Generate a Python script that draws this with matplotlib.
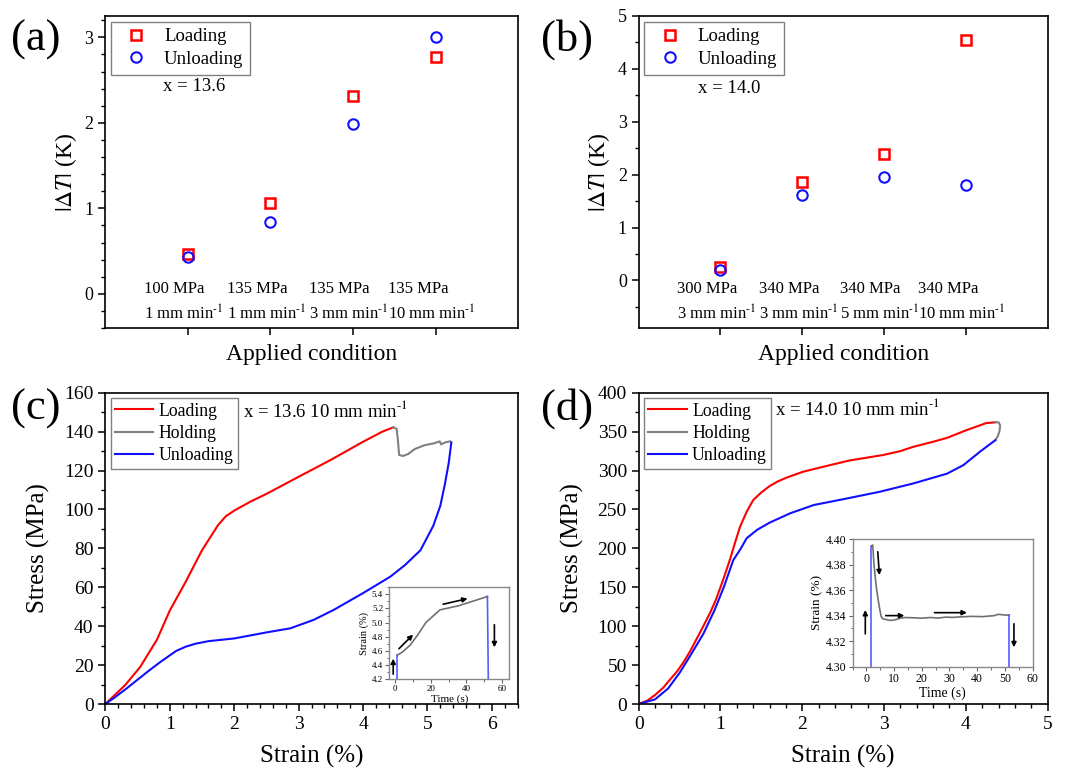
import numpy as np
import matplotlib
matplotlib.use("Agg")
from matplotlib import pyplot as plt
from matplotlib.ticker import MultipleLocator
import matplotlib.transforms as mtransforms

plt.rcParams['font.family'] = ['Liberation Serif', 'DejaVu Serif']
plt.rcParams['mathtext.fontset'] = 'stix'
plt.rcParams['axes.linewidth'] = 1.2

# ---- panel (a): x = 13.6 ----
a_stress = ['100', '135', '135', '135']
a_rate = ['1', '1', '3', '10']
a_loading = [0.46, 1.06, 2.31, 2.77]
a_unloading = [0.43, 0.84, 1.99, 3.00]

# ---- panel (b): x = 14.0 ----
b_stress = ['300', '340', '340', '340']
b_rate = ['3', '3', '5', '10']
b_loading = [0.25, 1.86, 2.39, 4.54]
b_unloading = [0.20, 1.61, 1.95, 1.81]

# ---- panel (c): stress-strain, x = 13.6 ----
c_load_strain = [0, 0.12, 0.31, 0.54, 0.80, 1.0, 1.25, 1.5, 1.75, 1.87, 2.0, 2.25, 2.5,
                 3.0, 3.5, 4.0, 4.3, 4.47]
c_load_stress = [0, 3.8, 9.8, 19, 33, 48, 63, 79, 92, 96.5, 99.4, 104, 108,
                 116.8, 125.5, 134.8, 140, 142.2]
c_hold_strain = [4.47, 4.52, 4.54, 4.56, 4.62, 4.70, 4.80, 4.95, 5.10, 5.19, 5.21, 5.28, 5.35]
c_hold_stress = [142.2, 141.5, 136, 128, 127.5, 128.5, 131, 133, 134, 135, 133.5, 134.5, 135]
c_unload_strain = [5.37, 5.33, 5.27, 5.2, 5.09, 4.89, 4.65, 4.42, 4.0, 3.54, 3.23, 2.87,
                   2.5, 2.0, 1.6, 1.4, 1.25, 1.1, 1.0, 0.85, 0.69, 0.5, 0.33, 0.15, 0]
c_unload_stress = [134.5, 124, 113, 102, 91.6, 79, 71.4, 65.4, 57, 48.3, 43.2, 38.9,
                   36.8, 33.7, 32.3, 31, 29.5, 27.3, 25, 21.5, 17.5, 12.5, 8, 3.5, 0]

# inset (c): strain vs time
c_in_load_t = [1.4, 1.4]
c_in_load_e = [4.2, 4.54]
c_in_hold_t = [1.4, 4.1, 8.5, 12.9, 17.3, 25.2, 35.8, 48.1, 51.7]
c_in_hold_e = [4.54, 4.58, 4.68, 4.83, 5.0, 5.18, 5.24, 5.34, 5.37]
c_in_unload_t = [51.7, 52.2]
c_in_unload_e = [5.37, 4.2]
c_in_arrows = [((-0.9, 4.27), (-0.9, 4.49)), ((2.3, 4.63), (10.2, 4.83)),
               ((27, 5.26), (40.6, 5.34)), ((55.6, 4.97), (55.6, 4.65))]

# ---- panel (d): stress-strain, x = 14.0 ----
d_load_strain = [0, 0.1, 0.2, 0.3, 0.38, 0.47, 0.55, 0.63, 0.71, 0.79, 0.87, 0.94, 1.0,
                 1.06, 1.12, 1.18, 1.24, 1.32, 1.4, 1.5, 1.6, 1.7, 1.81, 2.01, 2.34, 2.58,
                 2.99, 3.2, 3.36, 3.6, 3.77, 4.01, 4.25, 4.36]
d_load_stress = [0, 4, 11.6, 21, 31, 42, 54, 68, 84, 100, 116.5, 133, 150,
                 168, 187, 208, 228, 247, 262, 272, 280, 286, 291, 298.5, 307, 313,
                 320, 325, 330.6, 337, 342, 352, 361, 362]
d_hold_strain = [4.36, 4.40, 4.42, 4.41, 4.39, 4.36]
d_hold_stress = [362, 362, 358, 350, 344, 339]
d_unload_strain = [4.36, 4.17, 3.97, 3.77, 3.36, 2.95, 2.54, 2.14, 1.85, 1.6, 1.45, 1.32,
                   1.25, 1.157, 1.04, 0.925, 0.79, 0.63, 0.5, 0.36, 0.2, 0]
d_unload_stress = [339, 324, 307, 296, 283.5, 272.8, 264, 255.7, 245, 233, 224, 213,
                   200, 185, 150, 120, 90, 62, 40, 20, 6, 0]

# inset (d): strain vs time
d_in_load_t = [1.7, 1.7]
d_in_load_e = [4.30, 4.394]
d_in_hold_t = [1.7, 2.3, 2.7, 3.2, 3.6, 4.1, 4.5, 4.9, 5.3, 5.9, 7.0, 8.8, 10.5, 12.3, 14.0,
               17.0, 20.0, 23.0, 26.0, 28.7, 31.0, 34.0, 38.0, 42.0, 46.3, 47.5, 50.0, 51.6]
d_in_hold_e = [4.3945, 4.3953, 4.381, 4.370, 4.362, 4.3546, 4.349, 4.344, 4.3395, 4.3375,
               4.3370, 4.3362, 4.3368, 4.3380, 4.3385, 4.3383, 4.3380, 4.3385, 4.3381,
               4.3388, 4.3386, 4.3390, 4.3394, 4.3392, 4.3400, 4.3410, 4.3405, 4.3403]
d_in_unload_t = [51.6, 51.6]
d_in_unload_e = [4.3403, 4.30]
d_in_arrows = [((-0.4, 4.3257), (-0.4, 4.3444)), ((4.1, 4.390), (4.7, 4.3717)),
               ((7.0, 4.340), (13.7, 4.340)), ((24.6, 4.3423), (36.3, 4.3423)),
               ((53.3, 4.3336), (53.3, 4.3152))]

RED = '#ff0000'
BLUE = '#1010ff'
GRAY = '#808080'
INSET_BLUE = '#5a5aff'
SUP = r'$^{\text{-}1}$'


def style_ticks(ax, size=13):
    ax.tick_params(which='both', direction='out', top=False, right=False, labelsize=size)
    ax.tick_params(which='major', length=5, width=1.1)
    ax.tick_params(which='minor', length=3, width=1.0)


def scatter_panel(ax, loading, unloading, stress, rate, xtext, ylim, minor):
    cats = np.arange(1, len(loading) + 1)
    ax.plot(cats, loading, 's', mfc='none', mec=RED, mew=1.8, ms=7, label='Loading')
    ax.plot(cats, unloading, 'o', mfc='none', mec=BLUE, mew=1.5, ms=7.5, label='Unloading')
    ax.set_xlim(0, 5)
    ax.set_ylim(*ylim)
    ax.set_xticks(cats)
    ax.set_xticklabels([])
    ax.yaxis.set_major_locator(MultipleLocator(1))
    ax.yaxis.set_minor_locator(MultipleLocator(minor))
    style_ticks(ax)
    trans = mtransforms.blended_transform_factory(ax.transData, ax.transAxes)
    for c, s, r in zip(cats, stress, rate):
        ax.text(c - 0.05, 0.082, f'{s} MPa\n{r} mm min' + SUP, transform=trans, ha='center',
                va='center', multialignment='left', linespacing=1.45, fontsize=12)
    ax.set_xlabel('Applied condition', fontsize=17, labelpad=3)
    ax.set_ylabel(r'$|\mathit{\Delta T}|$ (K)', fontsize=17, labelpad=4)
    leg = ax.legend(loc='upper left', fontsize=13.5, handlelength=2.0, handletextpad=0.5,
                    borderpad=0.35, labelspacing=0.3, fancybox=False, framealpha=1,
                    borderaxespad=0.3)
    leg.get_frame().set_edgecolor(GRAY)
    leg.get_frame().set_linewidth(1.0)
    ax.text(xtext[0], xtext[1], xtext[2], fontsize=13.5, va='center')


def curve_panel(ax, load, hold, unload, xlim, ylim, xminor, ymajor, yminor, title_xy, title):
    ax.plot(load[0], load[1], color=RED, lw=1.5, label='Loading')
    ax.plot(hold[0], hold[1], color=GRAY, lw=1.5, label='Holding')
    ax.plot(unload[0], unload[1], color=BLUE, lw=1.5, label='Unloading')
    ax.set_xlim(*xlim)
    ax.set_ylim(*ylim)
    ax.xaxis.set_major_locator(MultipleLocator(1))
    ax.xaxis.set_minor_locator(MultipleLocator(xminor))
    ax.yaxis.set_major_locator(MultipleLocator(ymajor))
    ax.yaxis.set_minor_locator(MultipleLocator(yminor))
    style_ticks(ax, 14)
    ax.set_xlabel('Strain (%)', fontsize=18, labelpad=9)
    ax.set_ylabel('Stress (MPa)', fontsize=18, labelpad=10)
    leg = ax.legend(loc='upper left', fontsize=12.8, handlelength=2.15, handletextpad=0.3,
                    borderpad=0.25, labelspacing=0.3, fancybox=False, framealpha=1,
                    borderaxespad=0.3)
    leg.get_frame().set_edgecolor(GRAY)
    leg.get_frame().set_linewidth(1.0)
    ax.text(title_xy[0], title_xy[1], title, fontsize=13.5, va='center')


def inset_panel(ax, rect, load, hold, unload, arrows, xlim, ylim, xmajor, xminor,
                ymajor, yminor, yfmt, fs):
    ins = ax.inset_axes(rect)
    ins.plot(load[0], load[1], color=INSET_BLUE, lw=1.2)
    ins.plot(hold[0], hold[1], color='#707070', lw=1.2)
    ins.plot(unload[0], unload[1], color=INSET_BLUE, lw=1.2)
    for start, end in arrows:
        ins.annotate('', xy=end, xytext=start,
                     arrowprops=dict(arrowstyle='-|>', color='k', lw=1.2,
                                     mutation_scale=7, shrinkA=0, shrinkB=0))
    ins.set_xlim(*xlim)
    ins.set_ylim(*ylim)
    ins.xaxis.set_major_locator(MultipleLocator(xmajor))
    ins.xaxis.set_minor_locator(MultipleLocator(xminor))
    ins.yaxis.set_major_locator(MultipleLocator(ymajor))
    ins.yaxis.set_minor_locator(MultipleLocator(yminor))
    ins.yaxis.set_major_formatter(yfmt)
    ins.tick_params(which='both', direction='out', top=False, right=False,
                    labelsize=fs, color='#666666', pad=1.5)
    ins.tick_params(which='major', length=3, width=0.8)
    ins.tick_params(which='minor', length=1.8, width=0.7)
    for sp in ins.spines.values():
        sp.set_color('#888888')
        sp.set_linewidth(1.0)
    ins.set_xlabel('Time (s)', fontsize=fs + 1.5, labelpad=1)
    ins.set_ylabel('Strain (%)', fontsize=fs + 1, labelpad=2)
    return ins


fig = plt.figure(figsize=(10.65, 7.69), dpi=100)
ax_a = fig.add_axes([0.0986, 0.5735, 0.388, 0.4057])
ax_b = fig.add_axes([0.5997, 0.5735, 0.384, 0.4057])
ax_c = fig.add_axes([0.0989, 0.0845, 0.3872, 0.4048])
ax_d = fig.add_axes([0.5997, 0.0845, 0.384, 0.4048])

scatter_panel(ax_a, a_loading, a_unloading, a_stress, a_rate,
              (0.70, 2.43, 'x = 13.6'), (-0.4, 3.25), 0.2)
scatter_panel(ax_b, b_loading, b_unloading, b_stress, b_rate,
              (0.72, 3.63, 'x = 14.0'), (-0.9, 5.0), 0.5)

curve_panel(ax_c, (c_load_strain, c_load_stress), (c_hold_strain, c_hold_stress),
            (c_unload_strain, c_unload_stress), (0, 6.4), (0, 160), 0.2, 20, 10,
            (2.14, 151), 'x = 13.6 10 mm min' + SUP)
curve_panel(ax_d, (d_load_strain, d_load_stress), (d_hold_strain, d_hold_stress),
            (d_unload_strain, d_unload_stress), (0, 5), (0, 400), 0.2, 50, 25,
            (1.67, 380), 'x = 14.0 10 mm min' + SUP)

inset_panel(ax_c, [0.689, 0.080, 0.291, 0.295], (c_in_load_t, c_in_load_e),
            (c_in_hold_t, c_in_hold_e), (c_in_unload_t, c_in_unload_e), c_in_arrows,
            (-3, 64), (4.2, 5.5), 20, 10, 0.2, 0.1, '{x:.1f}', 6.5)
inset_panel(ax_d, [0.523, 0.120, 0.44, 0.41], (d_in_load_t, d_in_load_e),
            (d_in_hold_t, d_in_hold_e), (d_in_unload_t, d_in_unload_e), d_in_arrows,
            (-5, 60), (4.30, 4.40), 10, 5, 0.02, 0.01, '{x:.2f}', 8.5)

for lab, x, y in [('(a)', 0.010, 0.948), ('(b)', 0.508, 0.948),
                  ('(c)', 0.010, 0.469), ('(d)', 0.508, 0.469)]:
    fig.text(x, y, lab, fontsize=32, va='center', ha='left')

fig.savefig('out.png', dpi=100)
